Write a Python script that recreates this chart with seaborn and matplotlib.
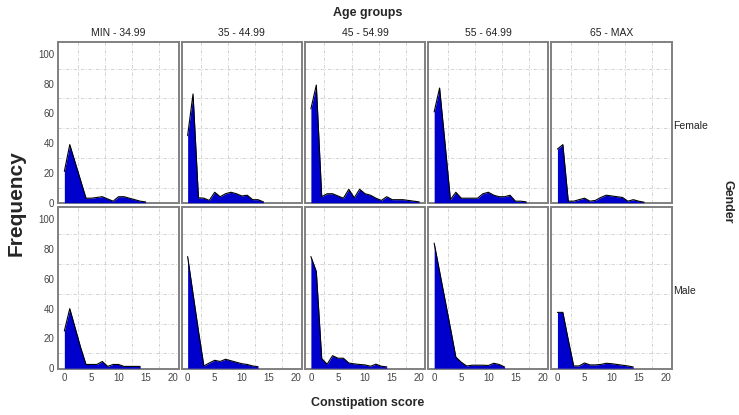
import numpy as np
import pandas as pd
import matplotlib
matplotlib.use("Agg")
import matplotlib.pyplot as plt
import seaborn as sns

age_groups = ["MIN - 34.99", "35 - 44.99", "45 - 54.99", "55 - 64.99", "65 - MAX"]
genders = ["Female", "Male"]

female_min_35 = [21, 39, 27, 15, 3, 3, 3.5, 4, 2.5, 1, 4, 4, 3, 2, 1, 0.5]
female_35_45 = [45, 73, 3.3, 3, 1.5, 7, 4, 6, 7, 6, 4.5, 5, 2, 2, 0.5]
female_45_55 = [63, 79, 4, 6, 6, 4.5, 3, 9, 3.3, 9, 6, 5, 3, 1.5, 4, 2, 2, 2, 1.5, 1, 0.5]
female_55_65 = [61, 77, 40, 2, 7, 3, 3, 3, 3, 6, 7, 5, 4, 4, 5, 1, 1, 0.5]
female_65_max = [36, 39, 1, 1, 2, 3, 1, 1.5, 3.5, 5, 4.5, 4, 3.5, 1, 2, 1, 0.3]

male_min_35 = [25, 40, 27, 14, 2.5, 2.5, 2.5, 4.5, 1.2, 2.5, 2.5, 1.2, 1.2, 1.2, 1.2]
male_35_45 = [75, 50, 25, 1.5, 3.5, 5.3, 4.5, 6, 5, 4, 3, 2.5, 1.5, 1]
male_45_55 = [75, 65, 6.4, 2.7, 8.4, 6.7, 6.7, 3.5, 2.9, 2.5, 2.2, 1.3, 2.7, 1.3, 0.9]
male_55_65 = [84, 65, 46, 27, 7.5, 4, 1.5, 2, 2, 2, 1.8, 3.3, 2.5, 0.8]
male_65_max = [37.5, 37.5, 19, 1.5, 1.5, 3.5, 2.2, 2.2, 2.5, 3.3, 3, 2.5, 2, 1.5, 0.8]

series = {
    ("Female", age_groups[0]): female_min_35,
    ("Female", age_groups[1]): female_35_45,
    ("Female", age_groups[2]): female_45_55,
    ("Female", age_groups[3]): female_55_65,
    ("Female", age_groups[4]): female_65_max,
    ("Male", age_groups[0]): male_min_35,
    ("Male", age_groups[1]): male_35_45,
    ("Male", age_groups[2]): male_45_55,
    ("Male", age_groups[3]): male_55_65,
    ("Male", age_groups[4]): male_65_max,
}

rows = []
for (g, a), vals in series.items():
    for score, f in enumerate(vals):
        rows.append({"Gender": g, "Age": a, "Score": score, "Frequency": f})
df = pd.DataFrame(rows)

sns.set_theme(style="white")
plt.rcParams["font.family"] = ["Liberation Sans", "DejaVu Sans"]

grid = sns.FacetGrid(df, row="Gender", col="Age", row_order=genders, col_order=age_groups,
                     sharex=True, sharey=True, margin_titles=False, despine=False)
grid.figure.set_size_inches(7.39, 4.15)
grid.figure.set_dpi(100)


def poly(data, **kw):
    ax = plt.gca()
    x = data["Score"].to_numpy()
    y = data["Frequency"].to_numpy()
    ax.fill_between(x, 0, y, color="#0000CC", lw=0, zorder=3)
    ax.plot(x, y, color="black", lw=0.8, zorder=4)


grid.map_dataframe(poly)
grid.set_titles("")

for (i, j), ax in np.ndenumerate(grid.axes):
    ax.set_xlim(-1.1, 21.1)
    ax.set_ylim(-0.5, 108)
    ax.set_xticks([0, 5, 10, 15, 20])
    ax.set_yticks([0, 20, 40, 60, 80, 100])
    ax.set_xticks([2.5, 7.5, 12.5, 17.5], minor=True)
    ax.set_yticks([10, 30, 50, 70, 90], minor=True)
    ax.grid(which="minor", color="#cccccc", linestyle=(0, (4, 2, 1, 2)), lw=0.6, zorder=0)
    ax.grid(which="major", visible=False)
    ax.tick_params(which="both", length=0, labelsize=7, colors="#444444", pad=3)
    ax.set_xlabel("")
    ax.set_ylabel("")
    for s in ax.spines.values():
        s.set_color("#808080")
        s.set_linewidth(1.4)
    if i == 0:
        ax.set_title(age_groups[j], fontsize=7.5, color="#222222", pad=4)
    if j == 4:
        ax.text(1.01, 0.48, genders[i], transform=ax.transAxes,
                fontsize=7.5, color="#222222", va="center", ha="left")

grid.figure.subplots_adjust(left=0.079, right=0.909, top=0.899, bottom=0.111,
                            wspace=0.025, hspace=0.025)

fig = grid.figure
fig.text(0.497, 0.968, "Age groups", ha="center", va="center", fontsize=9, fontweight="bold")
fig.text(0.497, 0.03, "Constipation score", ha="center", va="center", fontsize=9, fontweight="bold")
fig.text(0.022, 0.51, "Frequency", ha="center", va="center", fontsize=15, fontweight="bold",
         rotation=90)
fig.text(0.985, 0.515, "Gender", ha="center", va="center", fontsize=9, fontweight="bold",
         rotation=270)

fig.savefig("out.png", dpi=100)
